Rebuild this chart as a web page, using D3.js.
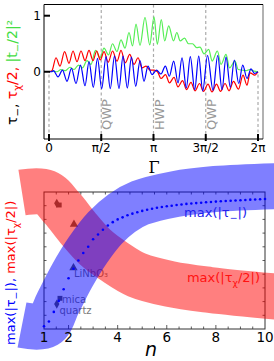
<!DOCTYPE html>
<html>
<head>
<meta charset="utf-8">
<script src="https://cdn.jsdelivr.net/npm/d3@7"></script>
<style>
  body { margin: 0; background: #fff; }
  svg { display: block; font-family: "DejaVu Sans", sans-serif; }
</style>
</head>
<body>
<div id="chart"></div>
<script>
// ---------- top panel: extrema (Γ in radians) ----------
const tauMinusG = [0, 0.075, 0.135, 0.271, 0.406, 0.541, 0.676, 0.812, 0.947, 1.082, 1.203, 1.332, 1.458, 1.584,
  1.714, 1.843, 1.969, 2.105, 2.225, 2.354, 2.48, 2.607, 2.736, 2.856, 2.976, 3.097, 3.232, 3.367, 3.497, 3.617,
  3.749, 3.879, 3.999, 4.128, 4.248, 4.381, 4.501, 4.621, 4.766, 4.931, 5.072, 5.201, 5.322, 5.451, 5.571, 5.704,
  5.824, 5.953, 6.073, 6.179, 6.283];
const tauMinusV = [0, 0, 0.02, -0.09, 0.03, -0.17, 0.06, -0.21, 0.12, -0.25, 0.18, -0.28, 0.24, -0.3,
  0.27, -0.3, 0.28, -0.3, 0.28, -0.29, 0.26, -0.26, 0.2, -0.17, 0.1, -0.05, 0.03, -0.04, 0.1, -0.08,
  0.19, -0.2, 0.25, -0.29, 0.27, -0.32, 0.28, -0.34, 0.29, -0.33, 0.29, -0.32, 0.26, -0.28, 0.21, -0.21,
  0.12, -0.12, 0.05, -0.03, 0];

const tauChiG = [0, 0.09, 0.21, 0.331, 0.469, 0.601, 0.722, 0.842, 0.962, 1.083, 1.203, 1.323, 1.434, 1.543,
  1.654, 1.781, 1.91, 2.045, 2.165, 2.294, 2.427, 2.556, 2.676, 2.796, 2.917, 3.037, 3.157, 3.262, 3.367,
  3.502, 3.623, 3.758, 3.878, 4.014, 4.134, 4.269, 4.389, 4.525, 4.645, 4.78, 4.9, 5.036, 5.156, 5.292,
  5.412, 5.547, 5.697, 5.832, 5.952, 6.043, 6.186, 6.283];
const tauChiV = [0, 0.02, 0.25, 0.1, 0.36, 0.15, 0.37, 0.18, 0.37, 0.2, 0.38, 0.2, 0.37, 0.21,
  0.36, 0.17, 0.37, 0.19, 0.38, 0.16, 0.31, 0.13, 0.25, 0.07, 0.1, 0.03, 0.03, 0, -0.12,
  -0.05, -0.2, -0.1, -0.27, -0.16, -0.32, -0.19, -0.34, -0.21, -0.35, -0.22, -0.36, -0.22, -0.35, -0.21,
  -0.34, -0.17, -0.31, -0.06, -0.24, -0.02, -0.06, 0];

const transG = [0, 0.12, 0.241, 0.361, 0.496, 0.631, 0.752, 0.887, 1.007, 1.143, 1.263, 1.398, 1.533, 1.654,
  1.789, 1.909, 2.044, 2.165, 2.285, 2.405, 2.511, 2.616, 2.736, 2.886, 3.028, 3.157, 3.256, 3.376, 3.478,
  3.598, 3.744, 3.843, 3.944, 4.074, 4.194, 4.315, 4.438, 4.54, 4.66, 4.8, 4.905, 5.062, 5.172, 5.322,
  5.427, 5.592, 5.689, 5.944, 6.034, 6.164, 6.283];
const transV = [0, 0.01, 0, 0.04, 0.02, 0.08, 0.04, 0.12, 0.07, 0.2, 0.13, 0.38, 0.25, 0.42,
  0.3, 0.5, 0.36, 0.57, 0.42, 0.7, 0.46, 0.85, 0.47, 0.97, 0.48, 0.98, 0.49, 0.93, 0.55,
  0.82, 0.55, 0.7, 0.55, 0.6, 0.5, 0.5, 0.43, 0.44, 0.32, 0.4, 0.19, 0.37, 0.13, 0.31,
  0.07, 0.19, 0.04, 0.02, 0.04, 0.01, 0];

const gammaTicks = [0, Math.PI / 2, Math.PI, 3 * Math.PI / 2, 2 * Math.PI];
const gammaTickLabels = ["0", "π/2", "π", "3π/2", "2π"];
const plateMarks = [Math.PI / 2, Math.PI, 3 * Math.PI / 2];
const plateLabels = ["QWP", "HWP", "QWP"];

// ---------- bottom panel ----------
const nDots = [1, 1.2, 1.4, 1.6, 1.8, 2, 2.2, 2.4, 2.6, 2.8, 3, 3.2, 3.4, 3.6, 3.8, 4, 4.2, 4.4, 4.6, 4.8,
  5, 5.2, 5.4, 5.6, 5.8, 6, 6.2, 6.4, 6.6, 6.8, 7, 7.2, 7.4, 7.6, 7.8, 8, 8.2, 8.4, 8.6, 8.8,
  9, 9.2, 9.4, 9.6, 9.8, 10];
const maxTauMinus = [0.02, 0.055, 0.125, 0.205, 0.29, 0.37, 0.44, 0.5, 0.555, 0.6, 0.655, 0.69, 0.725, 0.755,
  0.78, 0.8, 0.815, 0.83, 0.842, 0.852, 0.862, 0.87, 0.878, 0.885, 0.891, 0.896, 0.9, 0.905, 0.909, 0.913,
  0.916, 0.919, 0.922, 0.925, 0.927, 0.93, 0.932, 0.934, 0.936, 0.938, 0.94, 0.942, 0.944, 0.945, 0.947, 0.949];

// guide bands (centre lines)
const blueBandN = [0.104, 1.081, 1.57, 2.14, 2.792, 3.484, 4.176, 4.909, 6.335, 7.964, 10.611];
const blueBandV = [0.029, 0.029, 0.19, 0.387, 0.577, 0.737, 0.847, 0.92, 0.985, 1.022, 1.044];
const redBandN = [0.104, 1.081, 1.733, 2.385, 3.077, 3.891, 4.787, 6.131, 7.76, 10.611];
const redBandV = [0.996, 0.996, 0.883, 0.737, 0.599, 0.489, 0.394, 0.328, 0.285, 0.234];

// materials
const materials = ["mica", "quartz", "LiNbO₃"];
const materialN = [1.65, 1.52, 2.2];
const materialTau = [0.224, 0.182, 0.447];
const materialChiN = [1.62, 1.52, 2.22];
const materialChi = [0.905, 0.917, 0.764];
const nTickLabels = [1, 2, 4, 6, 8, 10];

const W = 274, H = 361;
const svg = d3.select("#chart").append("svg").attr("width", W).attr("height", H);

// rich text with subscripts
function addParts(text, parts, size) {
  let shift = 0;
  parts.forEach(p => {
    const target = p.sub ? size * 0.3 : 0;
    text.append("tspan")
      .attr("dy", target - shift)
      .attr("font-size", p.sub ? size * 0.72 : size)
      .attr("fill", p.c)
      .text(p.t);
    shift = target;
  });
}

// ================= TOP PANEL =================
const xT = d3.scaleLinear().domain([-0.15, 2 * Math.PI + 0.15]).range([44, 263]);
const yT = d3.scaleLinear().domain([-1.2, 1.2]).range([139, 4.5]);
const topG = svg.append("g");

// dashed guide lines
topG.selectAll(".guide").data(gammaTicks).join("line")
  .attr("x1", d => xT(d)).attr("x2", d => xT(d))
  .attr("y1", (d, i) => (i === 0 || i === 4) ? yT(-0.05) : yT(1.2))
  .attr("y2", yT(-1.2))
  .attr("stroke", "#aaa").attr("stroke-width", 1.2).attr("stroke-dasharray", "3,2.5");

topG.selectAll(".plate").data(plateMarks).join("text")
  .attr("transform", (d) => `translate(${xT(d) + 10},130) rotate(-90)`)
  .attr("font-size", 13).attr("fill", "#999")
  .text((d, i) => plateLabels[i]);

const line = d3.line().x(d => xT(d[0])).y(d => yT(d[1])).curve(d3.curveMonotoneX);
[[transG, transV, "#55ee55"], [tauChiG, tauChiV, "#ff0000"], [tauMinusG, tauMinusV, "#0000ff"]]
  .forEach(([g, v, c]) => {
    topG.append("path").datum(d3.zip(g, v))
      .attr("fill", "none").attr("stroke", c).attr("stroke-width", 1.2).attr("d", line);
  });

// frame
topG.append("line").attr("x1", 263).attr("x2", 263).attr("y1", 4.5).attr("y2", 139)
  .attr("stroke", "#999").attr("stroke-width", 1.5);
topG.append("path").attr("d", "M44,139V4.5H263").attr("fill", "none").attr("stroke", "#000");
topG.append("line").attr("x1", 44).attr("x2", 263).attr("y1", 139).attr("y2", 139).attr("stroke", "#000");

// ticks
topG.selectAll(".xt").data(gammaTicks).join("line")
  .attr("x1", d => xT(d)).attr("x2", d => xT(d)).attr("y1", 134).attr("y2", 141)
  .attr("stroke", "#000").attr("stroke-width", 2);
topG.selectAll(".xl").data(gammaTicks).join("text")
  .attr("x", d => xT(d)).attr("y", 152).attr("text-anchor", "middle").attr("font-size", 12)
  .text((d, i) => gammaTickLabels[i]);
topG.selectAll(".yt").data([0, 1]).join("line")
  .attr("x1", 44).attr("x2", 50).attr("y1", d => yT(d)).attr("y2", d => yT(d))
  .attr("stroke", "#000").attr("stroke-width", 2);
topG.selectAll(".yl").data([0, 1]).join("text")
  .attr("x", 41).attr("y", d => yT(d) + 4.5).attr("text-anchor", "end").attr("font-size", 12)
  .text(d => d);

topG.append("text").attr("x", 154).attr("y", 173).attr("text-anchor", "middle")
  .attr("font-family", "DejaVu Serif").attr("font-size", 16).text("Γ");

const yLabTop = topG.append("text").attr("transform", "translate(17,125) rotate(-90)");
addParts(yLabTop, [
  { t: "τ", c: "#000" }, { t: "−", c: "#000", sub: true }, { t: ", ", c: "#000" },
  { t: "τ", c: "#ff0000" }, { t: "χ", c: "#ff0000", sub: true }, { t: "/2, ", c: "#ff0000" },
  { t: "|t", c: "#44dd44" }, { t: "−", c: "#44dd44", sub: true }, { t: "/2|²", c: "#44dd44" }
], 14);

// ================= BOTTOM PANEL =================
const xB = d3.scaleLinear().domain([1, 10]).range([44, 265]);
const yB = d3.scaleLinear().domain([0, 1]).range([329, 192]);
const botG = svg.append("g");

// frame + ticks
botG.append("rect").attr("x", 44).attr("y", 192).attr("width", 221).attr("height", 137)
  .attr("fill", "none").attr("stroke", "#333").attr("stroke-width", 1);
const nMinor = d3.range(1.5, 10, 0.5);
botG.selectAll(".tt").data(nMinor).join("line")
  .attr("x1", d => xB(d)).attr("x2", d => xB(d)).attr("y1", 192).attr("y2", 194.5)
  .attr("stroke", "#333").attr("stroke-width", 0.8);
botG.selectAll(".bt").data(nMinor).join("line")
  .attr("x1", d => xB(d)).attr("x2", d => xB(d)).attr("y1", 329)
  .attr("y2", d => (d % 2 === 0) ? 325 : 326.5)
  .attr("stroke", "#333").attr("stroke-width", 0.8);
const vMinor = d3.range(0.1, 1, 0.1);
botG.selectAll(".lt").data(vMinor).join("line")
  .attr("x1", 44).attr("x2", 46.5).attr("y1", d => yB(d)).attr("y2", d => yB(d))
  .attr("stroke", "#333").attr("stroke-width", 0.8);
botG.selectAll(".rt").data(vMinor).join("line")
  .attr("x1", 265).attr("x2", 262.5).attr("y1", d => yB(d)).attr("y2", d => yB(d))
  .attr("stroke", "#333").attr("stroke-width", 0.8);

// material markers (under the bands)
const shapes = [d3.symbolSquare, d3.symbolDiamond, d3.symbolTriangle];
const matColor = "#555";
materials.forEach((m, i) => {
  const sym = d3.symbol().type(shapes[i]).size(i === 2 ? 30 : 24);
  botG.append("path").attr("d", sym).attr("fill", matColor)
    .attr("transform", `translate(${xB(materialN[i])},${yB(materialTau[i])})`);
  botG.append("path").attr("d", sym).attr("fill", matColor)
    .attr("transform", `translate(${xB(materialChiN[i])},${yB(materialChi[i])})`);
});
const matLabelPos = [[62, 302.5], [59.5, 313.5], [74, 277]];
materials.forEach((m, i) => {
  botG.append("text").attr("x", matLabelPos[i][0]).attr("y", matLabelPos[i][1])
    .attr("font-size", 10).attr("fill", "#777").text(m);
});

// guide bands
const bandLine = d3.line().x(d => xB(d[0])).y(d => yB(d[1])).curve(d3.curveCatmullRom);
botG.append("path").datum(d3.zip(redBandN, redBandV))
  .attr("d", bandLine).attr("fill", "none").attr("stroke", "#ff0000")
  .attr("stroke-opacity", 0.5).attr("stroke-width", 46);
botG.append("path").datum(d3.zip(blueBandN, blueBandV))
  .attr("d", bandLine).attr("fill", "none").attr("stroke", "#0000ff")
  .attr("stroke-opacity", 0.5).attr("stroke-width", 46);

// dotted max(|τ−|)
botG.selectAll(".dot").data(d3.zip(nDots, maxTauMinus)).join("circle")
  .attr("cx", d => xB(d[0])).attr("cy", d => yB(d[1])).attr("r", 1.3).attr("fill", "#0000ff");

// band labels
const lab1 = botG.append("text").attr("x", 247).attr("y", 217).attr("text-anchor", "end");
addParts(lab1, [{ t: "max(|τ", c: "#2222ee" }, { t: "−", c: "#2222ee", sub: true }, { t: "|)", c: "#2222ee" }], 13);
const lab2 = botG.append("text").attr("x", 260).attr("y", 282).attr("text-anchor", "end");
addParts(lab2, [{ t: "max(|τ", c: "#ff1111" }, { t: "χ", c: "#ff1111", sub: true }, { t: "/2|)", c: "#ff1111" }], 13);

// axis labels
botG.selectAll(".nl").data(nTickLabels).join("text")
  .attr("x", d => xB(d)).attr("y", 341.5).attr("text-anchor", "middle").attr("font-size", 13.5)
  .text(d => d);
botG.append("text").attr("x", 151).attr("y", 356).attr("text-anchor", "middle")
  .attr("font-size", 19).attr("font-style", "italic").text("n");

const yLabBot = botG.append("text").attr("transform", "translate(15,345) rotate(-90)");
addParts(yLabBot, [
  { t: "max(|τ", c: "#0000ff" }, { t: "−", c: "#0000ff", sub: true }, { t: "|), ", c: "#0000ff" },
  { t: "max(|τ", c: "#ff0000" }, { t: "χ", c: "#ff0000", sub: true }, { t: "/2|)", c: "#ff0000" }
], 13);
</script>
</body>
</html>
